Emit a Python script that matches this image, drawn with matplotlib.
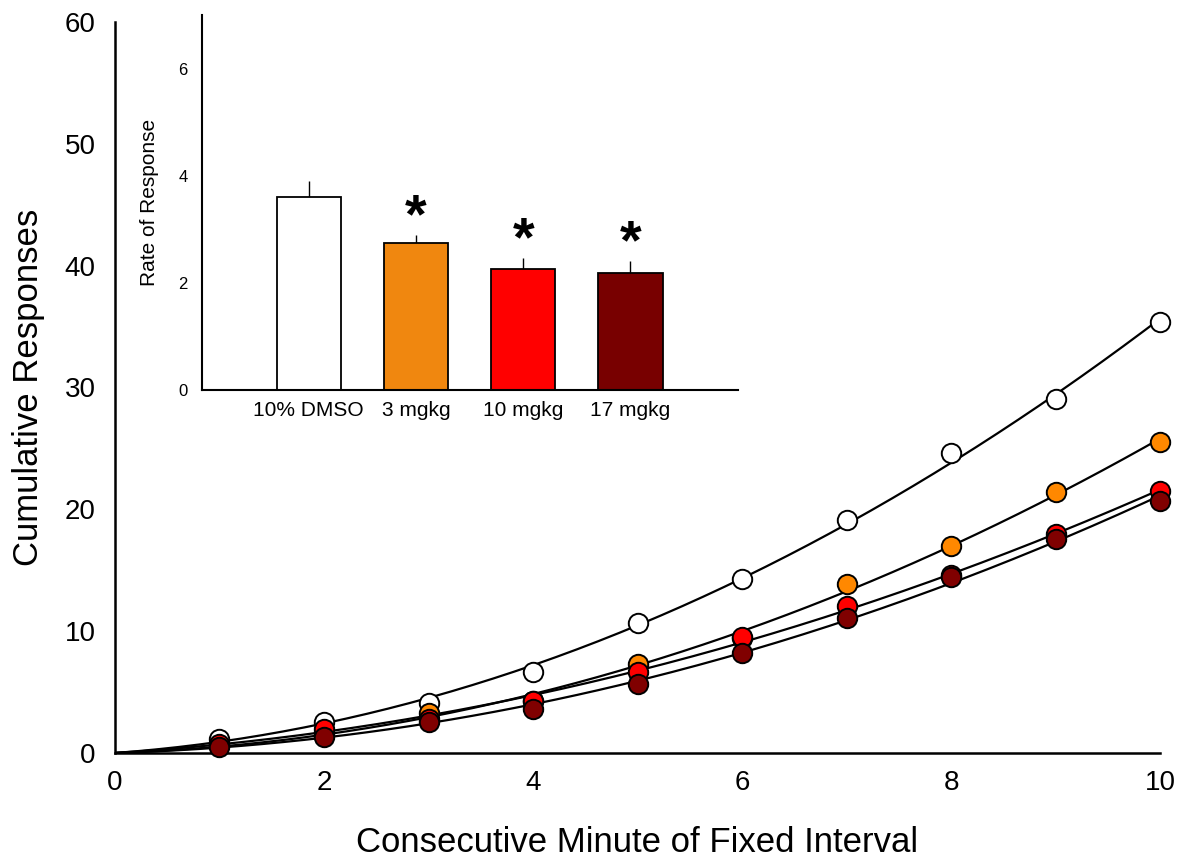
import numpy as np
import matplotlib
matplotlib.use("Agg")
import matplotlib.pyplot as plt

plt.rcParams['font.family'] = ['Liberation Sans', 'DejaVu Sans']

# Cumulative responses per minute of the fixed interval
minutes = [1, 2, 3, 4, 5, 6, 7, 8, 9, 10]
dmso = [1.12, 2.52, 4.08, 6.62, 10.64, 14.28, 19.1, 24.65, 29.06, 35.35]
mg3 = [0.62, 1.6, 3.26, 4.3, 7.3, 9.4, 13.87, 17.0, 21.4, 25.55]
mg10 = [0.72, 1.94, 2.8, 4.27, 6.67, 9.5, 12.07, 14.6, 17.95, 21.5]
mg17 = [0.52, 1.29, 2.57, 3.58, 5.64, 8.18, 11.08, 14.47, 17.54, 20.68]

# Rate of response (inset)
groups = ['10% DMSO', '3 mgkg', '10 mgkg', '17 mgkg']
rate = [3.61, 2.74, 2.25, 2.18]
rate_sem = [0.29, 0.16, 0.22, 0.23]
significant = [False, True, True, True]

colors = ['#ffffff', '#f0870f', '#ff0000', '#780000']
marker_colors = ['#ffffff', '#ff8800', '#ff0000', '#800000']

fig = plt.figure(figsize=(11.83, 8.57), dpi=100)
ax = fig.add_axes([0.0972, 0.1214, 0.8834, 0.8529])

x = np.array(minutes, dtype=float)
xs = np.linspace(0, 10, 200)
series = [dmso, mg3, mg10, mg17]
for y in series:
    y = np.array(y, dtype=float)
    # least-squares quadratic through the origin
    A = np.column_stack([x, x ** 2])
    coef, *_ = np.linalg.lstsq(A, y, rcond=None)
    ax.plot(xs, coef[0] * xs + coef[1] * xs ** 2, color='black', lw=1.6, zorder=2)
for y, mc in zip(series, marker_colors):
    ax.plot(x, y, 'o', ms=14, mfc=mc, mec='black', mew=1.4, zorder=3,
            clip_on=False)

ax.set_xlim(0, 10)
ax.set_ylim(0, 60)
ax.set_xticks([0, 2, 4, 6, 8, 10])
ax.set_yticks([0, 10, 20, 30, 40, 50, 60])
ax.tick_params(length=0, labelsize=20, pad=12)
ax.tick_params(axis='y', pad=14)
for s in ['top', 'right']:
    ax.spines[s].set_visible(False)
for s in ['left', 'bottom']:
    ax.spines[s].set_linewidth(1.8)
ax.set_xlabel('Consecutive Minute of Fixed Interval', fontsize=25, labelpad=22)
ax.set_ylabel('Cumulative Responses', fontsize=25, labelpad=14)

# Inset bar chart
ins = fig.add_axes([0.1704, 0.5449, 0.4532, 0.4376])
pos = np.arange(len(groups))
ins.bar(pos, rate, width=0.6, color=colors, edgecolor='black', linewidth=1.3,
        zorder=2)
ins.errorbar(pos, rate, yerr=[np.zeros(len(rate)), rate_sem], fmt='none',
             ecolor='black', elinewidth=1.0, capsize=0, zorder=1)
for p, r, e, sig in zip(pos, rate, rate_sem, significant):
    if sig:
        ins.text(p, r + e + 0.05, '*', ha='center', va='baseline',
                 fontsize=40, fontweight='bold')
ins.set_xlim(-1, 4)
ins.set_ylim(0, 7)
ins.set_yticks([0, 2, 4, 6])
ins.set_xticks(pos)
ins.set_xticklabels(groups)
ins.tick_params(length=0, labelsize=12, pad=10)
ins.tick_params(axis='x', labelsize=15, pad=8)
for s in ['top', 'right']:
    ins.spines[s].set_visible(False)
for s in ['left', 'bottom']:
    ins.spines[s].set_linewidth(1.5)
ins.set_ylabel('Rate of Response', fontsize=15, labelpad=14)
ins.patch.set_alpha(0)

fig.savefig('out.png', dpi=100)
